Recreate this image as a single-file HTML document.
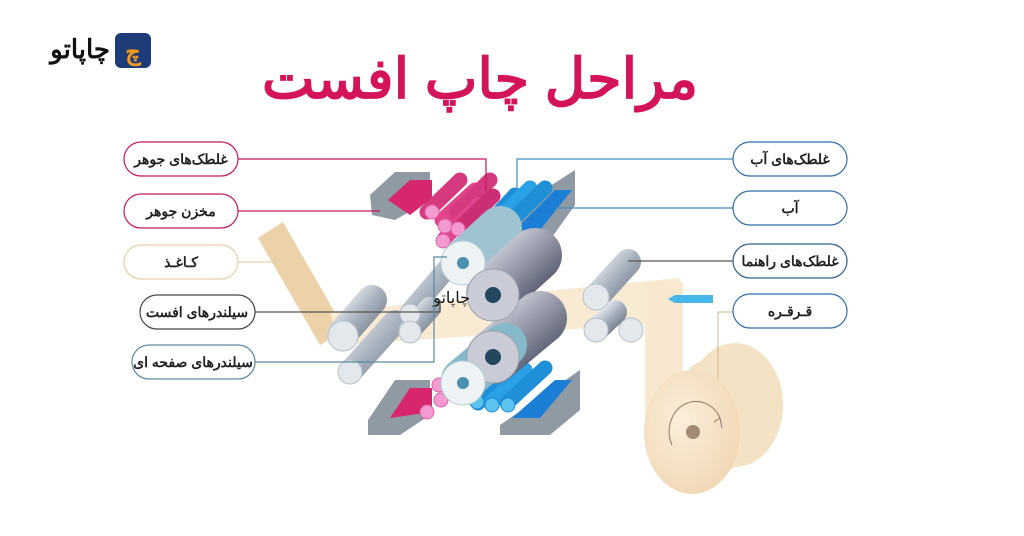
<!DOCTYPE html>
<html><head><meta charset="utf-8"><style>
html,body{margin:0;padding:0;background:#fff;width:1024px;height:536px;overflow:hidden}
svg{display:block}
text{font-family:"Liberation Sans","Noto Sans CJK SC",sans-serif}
</style></head><body>
<svg width="1024" height="536" viewBox="0 0 1024 536" xmlns="http://www.w3.org/2000/svg">
<defs>
<linearGradient id="gr" x1="0" y1="0" x2="1" y2="1"><stop offset="0" stop-color="#e4e9ee"/><stop offset=".5" stop-color="#a9b3bf"/><stop offset="1" stop-color="#7d8794"/></linearGradient>
<linearGradient id="dk" x1="0" y1="0" x2="1" y2="1"><stop offset="0" stop-color="#c3c6d2"/><stop offset="1" stop-color="#5d6275"/></linearGradient>
<radialGradient id="roll" cx=".4" cy=".4" r=".7"><stop offset="0" stop-color="#fbeedb"/><stop offset="1" stop-color="#efd6b2"/></radialGradient>
</defs>

<text x="110" y="58" font-size="26" font-weight="bold" fill="#111" text-anchor="end">چاپاتو</text>
<rect x="115" y="33" width="36" height="35" rx="6" fill="#1d3c78"/>
<text x="133" y="60" font-size="24" font-weight="bold" fill="#f39a1e" text-anchor="middle">چ</text>

<text x="480" y="98" font-size="56" font-weight="bold" fill="#d4145a" text-anchor="middle">مراحل چاپ افست</text>

<polygon points="258,238 283,222 345,330 320,345" fill="#ecd2a8"/>
<polygon points="330,312 680,278 680,322 340,345" fill="#f8ead3"/>
<rect x="645" y="282" width="38" height="150" fill="#f7e8cf"/>
<ellipse cx="735" cy="405" rx="48" ry="62" fill="#f4e2c5"/>
<polygon points="690,367 735,343 783,405 735,467 690,493" fill="#f4e2c5"/>
<ellipse cx="692" cy="432" rx="48" ry="62" fill="url(#roll)"/>
<circle cx="693" cy="432" r="7" fill="#a08b77"/>
<path d="M672 445 A25 28 0 0 1 720 418" fill="none" stroke="#8a7a68" stroke-width="1"/>
<path d="M720 418 l2 10 M720 418 l-6 4" stroke="#8a7a68" fill="none"/>

<polygon points="675,295 713,295 713,303 675,303 668,299" fill="#47b6ea"/>

<polygon points="370,195 395,172 430,172 430,200 395,220 372,215" fill="#8f9aa5"/>
<polygon points="388,200 410,180 432,180 432,198 410,215" fill="#d6276e"/>
<polygon points="505,215 575,170 575,205 550,240 505,240" fill="#8f9aa5"/>
<polygon points="515,230 555,190 572,190 540,230" fill="#1c7fd6"/>
<g stroke-linecap="round">
<line x1="427" y1="212" x2="460" y2="180" stroke="#d63a7e" stroke-width="15"/>
<line x1="442" y1="220" x2="475" y2="190" stroke="#e0448a" stroke-width="15"/>
<line x1="457" y1="212" x2="490" y2="180" stroke="#d63a7e" stroke-width="15"/>
<line x1="445" y1="238" x2="478" y2="205" stroke="#e0448a" stroke-width="15"/>
<line x1="460" y1="228" x2="493" y2="196" stroke="#cc2e74" stroke-width="15"/>
<line x1="478" y1="235" x2="515" y2="195" stroke="#1f8fd8" stroke-width="15"/>
<line x1="490" y1="228" x2="530" y2="188" stroke="#2aa0e6" stroke-width="15"/>
<line x1="507" y1="225" x2="545" y2="188" stroke="#1f8fd8" stroke-width="15"/>
</g>
<g fill="#f39ad0" stroke="#e15fa5"><circle cx="432" cy="212" r="7"/><circle cx="445" cy="226" r="7"/><circle cx="458" cy="229" r="7"/><circle cx="443" cy="241" r="7"/></g>
<g fill="#5ac3f0" stroke="#1e8bd0"><circle cx="477" cy="236" r="7"/><circle cx="491" cy="226" r="7"/><circle cx="508" cy="224" r="7"/></g>

<polygon points="368,420 395,380 430,380 430,415 400,435 368,435" fill="#8f9aa5"/>
<polygon points="390,418 410,388 432,388 432,412" fill="#d6276e"/>
<polygon points="500,425 580,370 580,410 550,435 500,435" fill="#8f9aa5"/>
<polygon points="512,418 555,380 572,380 540,418" fill="#1c7fd6"/>
<g stroke-linecap="round">
<line x1="478" y1="403" x2="510" y2="370" stroke="#1f8fd8" stroke-width="15"/>
<line x1="491" y1="403" x2="525" y2="370" stroke="#2aa0e6" stroke-width="15"/>
<line x1="507" y1="403" x2="545" y2="368" stroke="#1f8fd8" stroke-width="15"/>
</g>
<g fill="#5ac3f0" stroke="#1e8bd0"><circle cx="477" cy="402" r="7"/><circle cx="492" cy="405" r="7"/><circle cx="508" cy="405" r="7"/></g>
<g fill="#f39ad0" stroke="#e15fa5"><circle cx="439" cy="385" r="7"/><circle cx="454" cy="388" r="7"/><circle cx="441" cy="400" r="7"/><circle cx="427" cy="412" r="7"/></g>

<g stroke-linecap="round">
<line x1="343" y1="333" x2="372" y2="300" stroke="url(#gr)" stroke-width="30"/>
<line x1="350" y1="372" x2="395" y2="322" stroke="url(#gr)" stroke-width="24"/>
<line x1="410" y1="312" x2="450" y2="265" stroke="url(#gr)" stroke-width="20"/>
<line x1="410" y1="330" x2="430" y2="308" stroke="url(#gr)" stroke-width="22"/>
<line x1="598" y1="295" x2="628" y2="262" stroke="url(#gr)" stroke-width="26"/>
<line x1="598" y1="328" x2="615" y2="312" stroke="url(#gr)" stroke-width="24"/>
<line x1="463" y1="262" x2="500" y2="228" stroke="#9fc3cf" stroke-width="44"/>
<line x1="493" y1="293" x2="535" y2="255" stroke="url(#dk)" stroke-width="54"/>
<line x1="493" y1="357" x2="540" y2="318" stroke="url(#dk)" stroke-width="54"/>
<line x1="463" y1="380" x2="505" y2="345" stroke="#86b9c9" stroke-width="44"/>
</g>
<g fill="#e3e8ed" stroke="#b7c0c9">
<circle cx="343" cy="336" r="15"/><circle cx="350" cy="372" r="12"/><circle cx="410" cy="314" r="10"/><circle cx="410" cy="332" r="11"/>
<circle cx="596" cy="297" r="13"/><circle cx="596" cy="330" r="12"/><circle cx="631" cy="330" r="12"/>
</g>
<circle cx="463" cy="263" r="22" fill="#eef4f6" stroke="#b5cfd6"/><circle cx="463" cy="263" r="6" fill="#4d8fb0"/>
<circle cx="493" cy="295" r="26" fill="#c9ccd6" stroke="#9ea3b2"/><circle cx="493" cy="295" r="8" fill="#23475e"/>
<circle cx="493" cy="357" r="26" fill="#c9ccd6" stroke="#9ea3b2"/><circle cx="493" cy="357" r="8" fill="#23475e"/>
<circle cx="463" cy="383" r="22" fill="#eef4f6" stroke="#b5cfd6"/><circle cx="463" cy="383" r="6" fill="#4d8fb0"/>
<text x="470" y="303" font-size="16" fill="#111" text-anchor="end">چاپاتو</text>

<g fill="none" stroke-width="1.2">
<polyline points="238,159 486,159 486,190" stroke="#c2185b"/>
<line x1="238" y1="211" x2="380" y2="211" stroke="#c2185b"/>
<line x1="238" y1="262" x2="278" y2="262" stroke="#e6cfa6"/>
<polyline points="255,312 440,312 440,300" stroke="#555"/>
<polyline points="255,362 434,362 434,257 447,257" stroke="#5a8aa0"/>
<polyline points="733,159 517,159 517,190" stroke="#3d8fc0"/>
<line x1="733" y1="208" x2="556" y2="208" stroke="#3d8fc0"/>
<line x1="733" y1="261" x2="628" y2="261" stroke="#555"/>
<polyline points="733,312 718,312 718,380" stroke="#d9c29c"/>
</g>

<g font-size="14" font-weight="bold" fill="#222" text-anchor="middle">
<rect x="124" y="142" width="114" height="34" rx="17" fill="#fff" stroke="#c2185b" stroke-width="1.2"/>
<text x="181" y="164">غلطک‌های جوهر</text>
<rect x="124" y="194" width="114" height="34" rx="17" fill="#fff" stroke="#c2185b" stroke-width="1.2"/>
<text x="181" y="216">مخزن جوهر</text>
<rect x="124" y="245" width="114" height="34" rx="17" fill="#fff" stroke="#e6cfa6" stroke-width="1.2"/>
<text x="181" y="267">کـاغـذ</text>
<rect x="140" y="295" width="115" height="34" rx="17" fill="#fff" stroke="#444" stroke-width="1.2"/>
<text x="197" y="317">سیلندرهای افست</text>
<rect x="132" y="345" width="123" height="34" rx="17" fill="#fff" stroke="#5a8aa0" stroke-width="1.2"/>
<text x="193" y="367">سیلندرهای صفحه ای</text>
<rect x="733" y="142" width="114" height="34" rx="17" fill="#fff" stroke="#2f6ea8" stroke-width="1.2"/>
<text x="790" y="164">غلطک‌های آب</text>
<rect x="733" y="191" width="114" height="34" rx="17" fill="#fff" stroke="#2f6ea8" stroke-width="1.2"/>
<text x="790" y="213">آب</text>
<rect x="733" y="244" width="114" height="34" rx="17" fill="#fff" stroke="#2f5f8a" stroke-width="1.2"/>
<text x="790" y="266">غلطک‌های راهنما</text>
<rect x="733" y="294" width="114" height="34" rx="17" fill="#fff" stroke="#2f6ea8" stroke-width="1.2"/>
<text x="790" y="316">قـرقـره</text>
</g>
</svg>
</body></html>
